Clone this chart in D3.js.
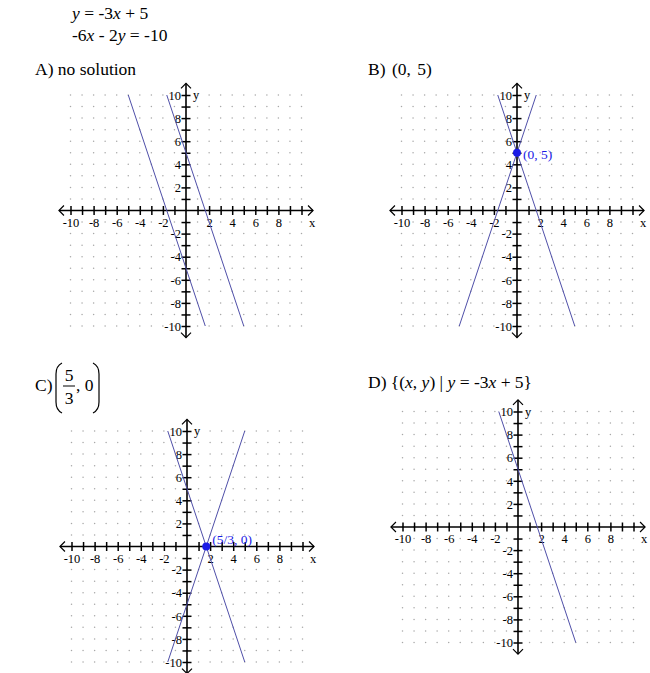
<!DOCTYPE html>
<html>
<head>
<meta charset="utf-8">
<script src="https://cdn.jsdelivr.net/npm/d3@7.9.0/dist/d3.min.js"></script>
<style>
  body { margin: 0; background: #fff; }
  svg { display: block; }
  svg text { font-family: "Liberation Serif", "Times New Roman", Times, "DejaVu Serif", serif; }
</style>
</head>
<body>
<svg id="chart" width="650" height="673"></svg>
<script>
// data
const gridValues = d3.range(-10, 11);              // integer grid -10..10
const tickValues = gridValues.filter(v => v !== 0);
const labelValues = [-10, -8, -6, -4, -2, 2, 4, 6, 8, 10];
const panelNames = ["A", "B", "C", "D"];
const lineSlopes = [[-3, -3], [-3, 3], [-3, 3], [-3]];
const lineIntercepts = [[5, -5], [5, 5], [5, -5], [5]];
const pointX = [null, 0, 5 / 3, null];
const pointY = [null, 5, 0, null];
const pointLabels = [null, "(0, 5)", "(5/3, 0)", null];

// layout (origin of each coordinate plane)
const origins = [[186, 210.5], [517, 210.5], [187, 546.5], [518, 527]];
const unit = 11.55;

const svg = d3.select("#chart");
const lineColor = "#4f4fa8";
const pointColor = "#1a1ae6";

// heading
const head = svg.append("g").attr("font-size", 17.5);
let t = head.append("text").attr("x", 72).attr("y", 19);
t.append("tspan").attr("font-style", "italic").text("y");
t.append("tspan").text(" = -3");
t.append("tspan").attr("font-style", "italic").text("x");
t.append("tspan").text(" + 5");
t = head.append("text").attr("x", 72).attr("y", 41);
t.append("tspan").text("-6");
t.append("tspan").attr("font-style", "italic").text("x");
t.append("tspan").text(" - 2");
t.append("tspan").attr("font-style", "italic").text("y");
t.append("tspan").text(" = -10");

// answer labels
head.append("text").attr("x", 35).attr("y", 75).text("A) no solution");
head.append("text").attr("x", 368).attr("y", 75).attr("word-spacing", 2).text("B) (0, 5)");

// C) with fraction in big parentheses
head.append("text").attr("x", 35).attr("y", 391).text("C)");
head.append("path")
  .attr("d", "M62,363 Q56,366 56,374 L56,402 Q56,410 62,413")
  .attr("fill", "none").attr("stroke", "#000").attr("stroke-width", 1.2);
head.append("path")
  .attr("d", "M93,363 Q99,366 99,374 L99,402 Q99,410 93,413")
  .attr("fill", "none").attr("stroke", "#000").attr("stroke-width", 1.2);
head.append("text").attr("x", 69).attr("y", 381).attr("text-anchor", "middle").text("5");
head.append("line").attr("x1", 63).attr("x2", 75).attr("y1", 386).attr("y2", 386)
  .attr("stroke", "#000").attr("stroke-width", 1);
head.append("text").attr("x", 69).attr("y", 404).attr("text-anchor", "middle").text("3");
head.append("text").attr("x", 76).attr("y", 391).text(", 0");

// D)
t = head.append("text").attr("x", 368).attr("y", 388);
t.append("tspan").text("D) {(");
t.append("tspan").attr("font-style", "italic").text("x");
t.append("tspan").text(", ");
t.append("tspan").attr("font-style", "italic").text("y");
t.append("tspan").text(") | ");
t.append("tspan").attr("font-style", "italic").text("y");
t.append("tspan").text(" = -3");
t.append("tspan").attr("font-style", "italic").text("x");
t.append("tspan").text(" + 5}");

panelNames.forEach((name, i) => {
  const [ox, oy] = origins[i];
  const x = d3.scaleLinear().domain([-10, 10]).range([ox - 10 * unit, ox + 10 * unit]);
  const y = d3.scaleLinear().domain([-10, 10]).range([oy + 10 * unit, oy - 10 * unit]);
  const g = svg.append("g").attr("class", "panel-" + name);

  // dot grid
  const pts = d3.cross(gridValues, gridValues);
  g.append("g").selectAll("circle").data(pts).join("circle")
    .attr("cx", d => x(d[0])).attr("cy", d => y(d[1]))
    .attr("r", 0.75).attr("fill", "#a8a8a8");

  // axis lines with open arrowheads
  const axes = g.append("g").attr("stroke", "#000").attr("fill", "none").attr("stroke-width", 1.6);
  axes.append("line").attr("x1", x(-11)).attr("x2", x(11)).attr("y1", y(0)).attr("y2", y(0));
  axes.append("line").attr("x1", x(0)).attr("x2", x(0)).attr("y1", y(-11)).attr("y2", y(11));
  const a = 5;
  axes.append("path").attr("stroke-width", 1.2)
    .attr("d", `M${x(-11) + a},${y(0) - a} L${x(-11)},${y(0)} L${x(-11) + a},${y(0) + a}`);
  axes.append("path").attr("stroke-width", 1.2)
    .attr("d", `M${x(11) - a},${y(0) - a} L${x(11)},${y(0)} L${x(11) - a},${y(0) + a}`);
  axes.append("path").attr("stroke-width", 1.2)
    .attr("d", `M${x(0) - a},${y(11) + a} L${x(0)},${y(11)} L${x(0) + a},${y(11) + a}`);
  axes.append("path").attr("stroke-width", 1.2)
    .attr("d", `M${x(0) - a},${y(-11) - a} L${x(0)},${y(-11)} L${x(0) + a},${y(-11) - a}`);

  // x ticks through d3 axis
  const xAxis = g.append("g").attr("transform", `translate(0,${y(0)})`)
    .call(d3.axisBottom(x).tickValues(tickValues).tickSize(4)
      .tickFormat(v => (labelValues.includes(v) && v !== 10) ? v : ""));
  xAxis.select(".domain").remove();
  xAxis.attr("font-family", null);
  xAxis.selectAll(".tick line").attr("y1", -4.5).attr("y2", 4.5).attr("stroke-width", 1.5);
  xAxis.selectAll(".tick text").attr("y", 16).attr("dy", 0)
    .attr("font-size", 12.5).attr("fill", "#000");

  const yAxis = g.append("g").attr("transform", `translate(${x(0)},0)`)
    .call(d3.axisLeft(y).tickValues(tickValues).tickSize(4)
      .tickFormat(v => labelValues.includes(v) ? v : ""));
  yAxis.select(".domain").remove();
  yAxis.attr("font-family", null);
  yAxis.selectAll(".tick line").attr("x1", -4.5).attr("x2", 4.5).attr("stroke-width", 1.5);
  yAxis.selectAll(".tick text").attr("x", -5).attr("dy", "0.34em")
    .attr("font-size", 12.5).attr("fill", "#000");

  g.append("text").attr("x", x(11) - 4).attr("y", y(0) + 16).attr("font-size", 12.5).text("x");
  g.append("text").attr("x", x(0) + 7).attr("y", y(10) + 4).attr("font-size", 12.5).text("y");

  // lines y = m x + b, drawn between y = 10 and y = -10
  lineSlopes[i].forEach((m, j) => {
    const b = lineIntercepts[i][j];
    const ends = [10, -10].map(yy => [(yy - b) / m, yy]);
    g.append("path")
      .attr("d", d3.line().x(d => x(d[0])).y(d => y(d[1]))(ends))
      .attr("fill", "none").attr("stroke", lineColor).attr("stroke-width", 1);
  });

  // solution point
  if (pointX[i] !== null) {
    g.append("circle").attr("cx", x(pointX[i])).attr("cy", y(pointY[i]))
      .attr("r", 4).attr("fill", pointColor);
    g.append("text").attr("x", x(pointX[i]) + 6).attr("y", y(pointY[i]) - (pointY[i] === 0 ? 3 : -6))
      .attr("font-size", 13.5).attr("fill", pointColor).text(pointLabels[i]);
  }
});
</script>
</body>
</html>
